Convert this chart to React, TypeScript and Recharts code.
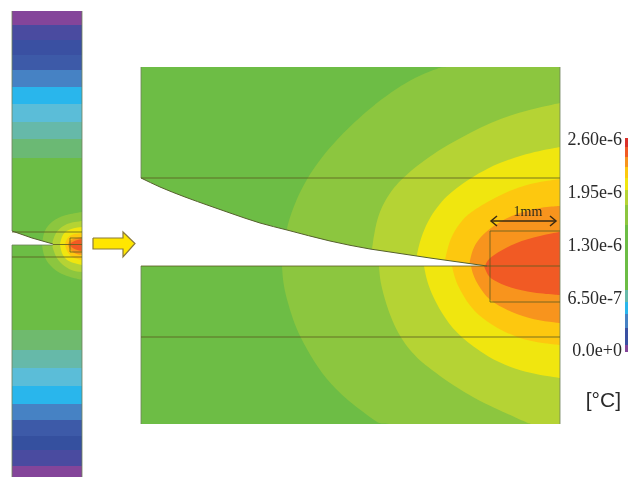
import React from "react";
import { ComposedChart, Area, Line, XAxis, YAxis, ReferenceDot } from "recharts";

type P = [number, number];

const levelColors = ["#8cc63f", "#b5d334", "#f0e60f", "#fdc80f", "#f8941d", "#f15a24"];
const baseGreen = "#6dbd45";

// Main panel contours: upper and lower halves, outermost level first
const panelUpper: P[][] = [
  [[282, 266], [284, 245], [287, 225], [296, 200], [307, 178], [322, 157], [338, 138], [370, 107], [413, 77], [442, 67], [442, 67], [560, 67]],
  [[370, 266], [372, 248], [375, 228], [380, 210], [389, 194], [400, 180], [427, 157], [470, 132], [513, 113], [560, 103], [560, 103]],
  [[415, 266], [417, 253], [422, 234], [430, 217], [440, 203], [453, 190], [487, 167], [527, 153], [560, 147], [560, 147]],
  [[444, 266], [445, 260], [448, 246], [453, 233], [462, 220], [473, 210], [503, 193], [530, 183], [560, 179], [560, 179]],
  [[469, 266], [472, 250], [478, 240], [487, 230], [510, 215], [540, 207], [560, 206], [560, 206]],
  [[485, 266], [487, 261], [492, 256], [510, 245], [533, 237], [560, 232], [560, 232]],
];
const panelLower: P[][] = [
  [[282, 266], [283, 283], [287, 300], [293, 320], [300, 337], [314, 362], [330, 384], [354, 406], [380, 424], [380, 424], [560, 424]],
  [[379, 266], [380, 280], [383, 293], [390, 316], [400, 337], [412, 353], [427, 367], [470, 397], [510, 415], [530, 424], [530, 424], [560, 424]],
  [[424, 266], [427, 282], [433, 297], [445, 319], [460, 337], [487, 357], [520, 372], [560, 378], [560, 378]],
  [[452, 266], [455, 279], [460, 290], [469, 305], [480, 317], [503, 332], [530, 342], [560, 345], [560, 345]],
  [[471, 266], [473, 275], [477, 283], [484, 294], [493, 303], [517, 315], [540, 321], [560, 323], [560, 323]],
  [[484, 266], [487, 274], [492, 280], [510, 288], [533, 293], [560, 295], [560, 295]],
];
const panelNotch: P[] = [
  [141, 178], [160, 187], [185, 197], [210, 206], [230, 213], [260, 223], [287, 230],
  [330, 241], [370, 249], [390, 252], [430, 258], [487, 266],
];

// Left strip
const stripEdges = [11, 25, 40, 55, 70, 87, 104, 122, 139, 158, 330, 350, 368, 386, 404, 420, 436, 450, 466, 478];
const stripColors = [
  "#84459a", "#4a4ba0", "#3a50a2", "#3d5aa8", "#4682c4", "#29b6ec", "#5bbdd8", "#66b9a9", "#6bb974",
  "#6cbd45", "#6fba6e", "#66b9a9", "#5bbdd8", "#29b6ec", "#4682c4", "#3d5aa8", "#35509f", "#4a4ba0", "#84459a",
];
const stripUpper: P[][] = [
  [[42, 244], [44, 230], [52, 221], [63, 215], [82, 212], [82, 212]],
  [[52, 244], [55, 233], [62, 226], [72, 222], [82, 221], [82, 221]],
  [[60, 244], [62, 235], [68, 229], [82, 227], [82, 227]],
  [[65, 244], [67, 238], [72, 234], [82, 233], [82, 233]],
  [[68, 244], [70, 240], [75, 238], [82, 237], [82, 237]],
  [[70, 244], [73, 241], [82, 239], [82, 239]],
];
const stripLower: P[][] = [
  [[42, 245], [44, 258], [52, 268], [64, 276], [82, 280], [82, 280]],
  [[52, 245], [55, 256], [62, 265], [72, 271], [82, 272], [82, 272]],
  [[60, 245], [62, 255], [68, 262], [82, 265], [82, 265]],
  [[65, 245], [67, 252], [72, 258], [82, 260], [82, 260]],
  [[68, 245], [70, 250], [75, 254], [82, 255], [82, 255]],
  [[70, 245], [73, 249], [82, 251], [82, 251]],
];
const stripNotch: P[] = [[12, 231], [32, 238], [53, 244]];

// Colour bar
const barEdges = [138, 147, 157, 167, 178, 190, 205, 225, 290, 302, 314, 328, 345, 352];
const barColors = [
  "#d9302a", "#f15a24", "#f7941e", "#fdc80f", "#f0e60f", "#b5d334", "#8cc63f",
  "#6cbd45", "#66b9a9", "#29b6ec", "#4682c4", "#3a50a2", "#84459a",
];
const tickValues = [2.6e-6, 1.95e-6, 1.3e-6, 6.5e-7, 0];
const tickLabels = ["2.60e-6", "1.95e-6", "1.30e-6", "6.50e-7", "0.0e+0"];

// Dark mesh lines
const darkLines: P[][] = [
  [[141, 178], [560, 178]],
  [[141, 266], [560, 266]],
  [[141, 337], [560, 337]],
  [[490, 231], [560, 231]],
  [[490, 231], [490, 302]],
  [[490, 302], [560, 302]],
  [[12, 232], [82, 232]],
  [[12, 257], [82, 257]],
  [[53, 244.5], [82, 244.5]],
  [[70, 238], [70, 252]],
  [[70, 238], [82, 238]],
  [[70, 252], [82, 252]],
];
const edgeLines: P[][] = [
  [[141, 67], [141, 178]],
  [[141, 266], [141, 424]],
  [[12, 11], [12, 231]],
  [[12, 245], [12, 477]],
  [[82, 11], [82, 477]],
  [[560, 67], [560, 424]],
  [[12, 245], [53, 245]],
];
const arrowFill: [number, number, number][] = [
  [93, 238, 249], [123, 238, 249], [123, 232, 257], [135, 243.5, 243.5],
];
const arrowOutline: P[] = [
  [93, 238], [123, 238], [123, 232], [135, 243.5], [123, 257], [123, 249], [93, 249], [93, 238],
];
const dimension: P[][] = [
  [[491, 221], [556, 221]],
  [[497, 216], [491, 221], [497, 226]],
  [[550, 216], [556, 221], [550, 226]],
];

const curve = (pts: P[], base: number) => pts.map(([x, y]) => ({ x, r: [Math.min(y, base), Math.max(y, base)] }));
const rect = (x0: number, x1: number, y0: number, y1: number) => [
  { x: x0, r: [y0, y1] },
  { x: x1, r: [y0, y1] },
];
const line = (pts: P[]) => pts.map(([x, y]) => ({ x, y }));

const band = (key: string, data: any[], fill: string, type: any = "basis") => (
  <Area
    key={key}
    data={data}
    dataKey="r"
    type={type}
    fill={fill}
    fillOpacity={1}
    stroke="none"
    dot={false}
    activeDot={false}
    isAnimationActive={false}
  />
);
const path = (key: string, pts: P[], stroke: string, width: number, opacity = 1, type: any = "linear") => (
  <Line
    key={key}
    data={line(pts)}
    dataKey="y"
    type={type}
    stroke={stroke}
    strokeWidth={width}
    strokeOpacity={opacity}
    dot={false}
    activeDot={false}
    isAnimationActive={false}
  />
);

const serif = "'Liberation Serif', serif";
const tickY = (v: number) => 350 - (v / 2.6e-6) * 211;

export default function App() {
  return (
    <div style={{ position: "absolute", left: 0, top: 0, width: 628, height: 477, overflow: "hidden", background: "#fff", filter: "blur(0.4px)" }}>
      <ComposedChart width={628} height={477} margin={{ top: 0, right: 0, bottom: 0, left: 0 }}>
        <XAxis dataKey="x" type="number" domain={[0, 628]} hide allowDataOverflow />
        <YAxis type="number" domain={[0, 477]} reversed hide allowDataOverflow />

        {stripColors.map((c, i) => band(`s${i}`, rect(12, 82, stripEdges[i], stripEdges[i + 1]), c, "linear"))}
        {stripUpper.map((p, i) => band(`su${i}`, curve(p, 244.5), levelColors[i]))}
        {stripLower.map((p, i) => band(`sl${i}`, curve(p, 244.5), levelColors[i]))}
        {band("sn", curve(stripNotch, 245), "#fff", "linear")}

        {band("p0", rect(141, 560, 67, 424), baseGreen, "linear")}
        {panelUpper.map((p, i) => band(`pu${i}`, curve(p, 266), levelColors[i]))}
        {panelLower.map((p, i) => band(`pl${i}`, curve(p, 266), levelColors[i]))}
        {band("pn", curve(panelNotch, 266), "#fff", "monotone")}

        {edgeLines.map((p, i) => path(`e${i}`, p, "#6f7f5a", 1, 0.8))}
        {darkLines.map((p, i) => path(`d${i}`, p, "#5a5a1e", 1, 0.8))}
        {path("notchLine", panelNotch, "#55602c", 1, 1, "monotone")}
        {path("stripNotchLine", stripNotch, "#55602c", 1)}

        {barColors.map((c, i) => band(`b${i}`, rect(625, 628, barEdges[i], barEdges[i + 1]), c, "linear"))}

        {band("a", arrowFill.map(([x, a, b]) => ({ x, r: [a, b] })), "#ffe600", "linear")}
        {path("ao", arrowOutline, "#8a7a3a", 1.2)}
        {dimension.map((p, i) => path(`m${i}`, p, "#3a2a12", 1.5))}

        {tickValues.map((v, i) => (
          <ReferenceDot
            key={tickLabels[i]}
            x={622}
            y={tickY(v)}
            r={0}
            stroke="none"
            label={{ value: tickLabels[i], position: "left", offset: 0, fill: "#2a2a2a", fontSize: 18, fontFamily: serif }}
          />
        ))}
        <ReferenceDot
          x={528}
          y={211}
          r={0}
          stroke="none"
          label={{ value: "1mm", position: "center", fill: "#2b2b1a", fontSize: 14, fontFamily: serif }}
        />
        <ReferenceDot
          x={621}
          y={400}
          r={0}
          stroke="none"
          label={{ value: "[°C]", position: "left", offset: 0, fill: "#2a2a2a", fontSize: 21, fontFamily: "'Liberation Sans', sans-serif" }}
        />
      </ComposedChart>
    </div>
  );
}
